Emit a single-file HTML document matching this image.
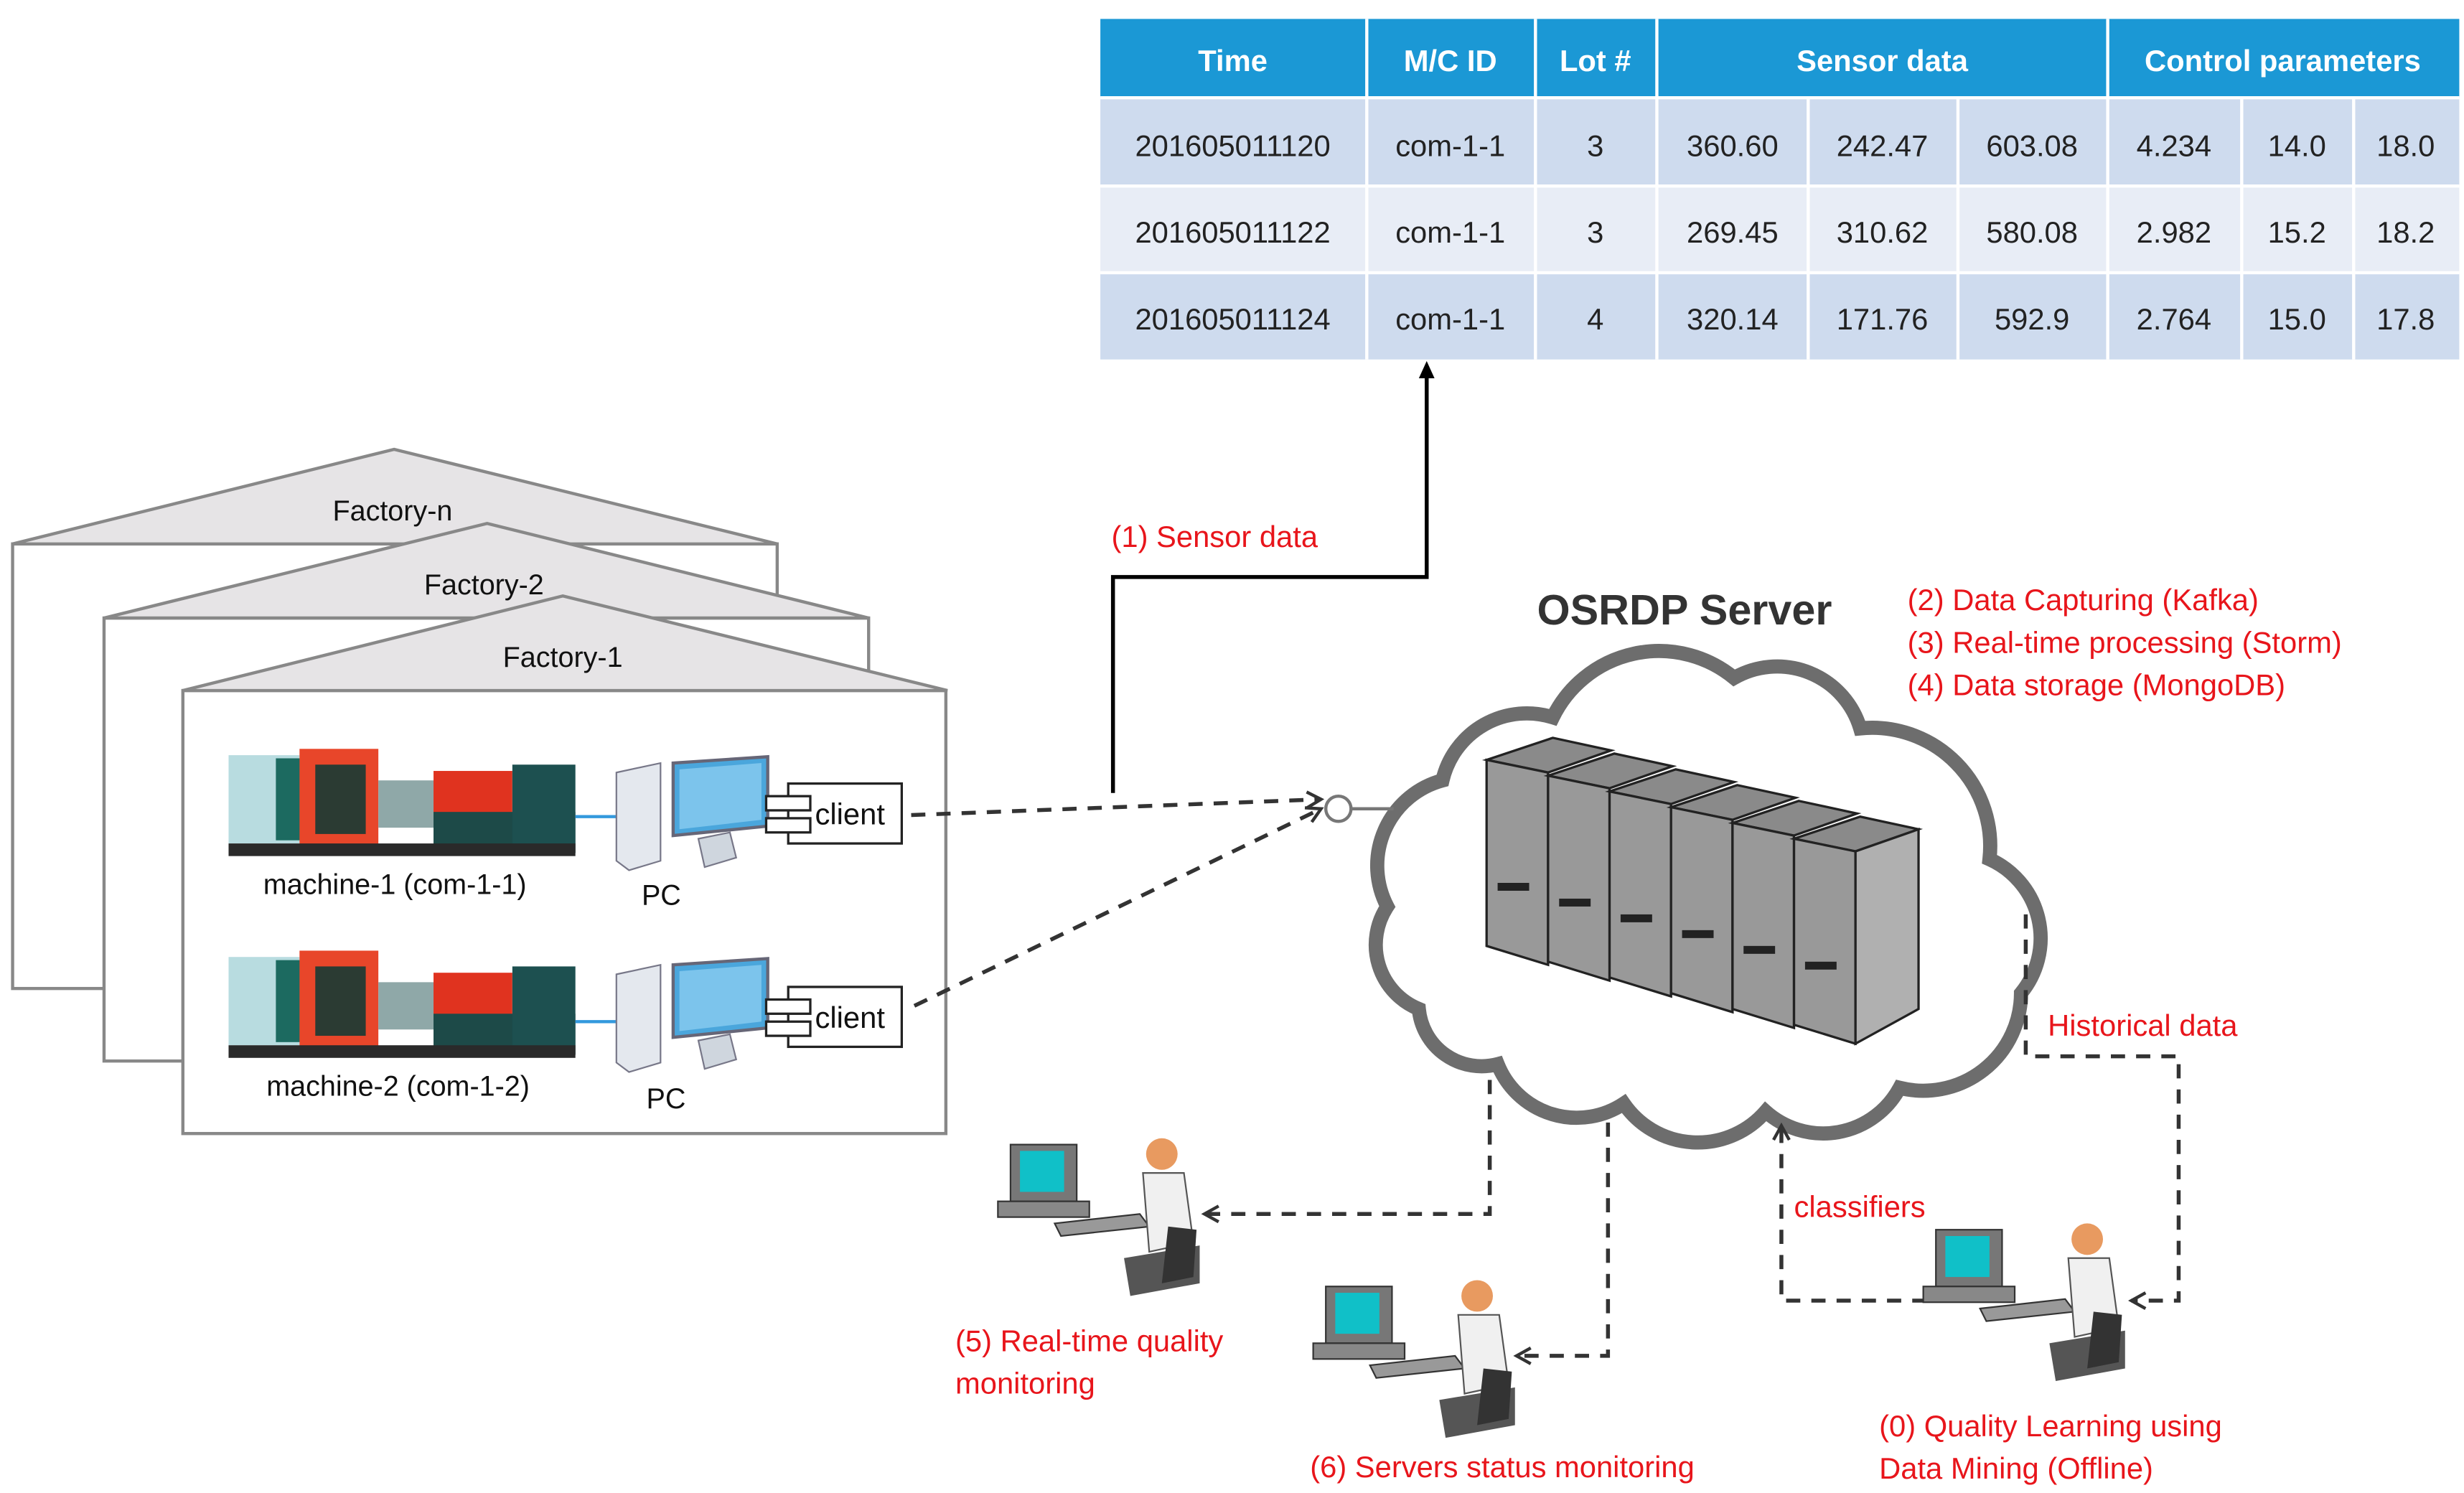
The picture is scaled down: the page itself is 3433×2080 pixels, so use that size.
<!DOCTYPE html>
<html><head><meta charset="utf-8"><style>
html,body{margin:0;padding:0;background:#fff;width:3433px;height:2080px;overflow:hidden}
svg{display:block}
text{font-family:"Liberation Sans",sans-serif}
</style></head><body>
<svg width="3433" height="2080" viewBox="0 0 1563 947" preserveAspectRatio="none" xmlns="http://www.w3.org/2000/svg">
<defs>
<marker id="ah" markerWidth="12" markerHeight="12" refX="10" refY="6" orient="auto" markerUnits="userSpaceOnUse"><path d="M1,1 L10,6 L1,11" fill="none" stroke="#333" stroke-width="2"/></marker>
<marker id="as" markerWidth="12" markerHeight="12" refX="6" refY="6" orient="auto" markerUnits="userSpaceOnUse"><path d="M0,1 L11,6 L0,11 Z" fill="#000"/></marker>
<g id="mach">
<rect x="0" y="0" width="220" height="70" fill="#fff"/>
<rect x="0" y="4" width="45" height="56" fill="#b8dce0"/>
<rect x="30" y="6" width="22" height="52" fill="#1c6a60"/>
<rect x="45" y="0" width="50" height="62" fill="#e8462a"/>
<rect x="55" y="10" width="32" height="44" fill="#2b3b33"/>
<rect x="95" y="20" width="40" height="30" fill="#8fa8a8"/>
<rect x="130" y="14" width="50" height="30" fill="#e0331f"/>
<rect x="130" y="40" width="90" height="26" fill="#1d4a48"/>
<rect x="180" y="10" width="40" height="56" fill="#1d5050"/>
<rect x="0" y="60" width="220" height="8" fill="#2a2a2a"/>
</g>
<g id="pc">
<path d="M0,10 L28,4 L28,66 L8,72 L0,66Z" fill="#e4e8ee" stroke="#778" stroke-width="1"/>
<path d="M36,4 L96,0 L96,44 L36,50Z" fill="#4aa6dc" stroke="#667" stroke-width="2"/>
<path d="M40,8 L92,4 L92,40 L40,46Z" fill="#7cc4ec"/>
<path d="M52,52 L72,48 L76,64 L56,70Z" fill="#cfd6de" stroke="#778"/>
</g>
<g id="client">
<rect x="14" y="0" width="72" height="38" fill="#fff" stroke="#222" stroke-width="1.5"/>
<rect x="0" y="8" width="28" height="9" fill="#fff" stroke="#222" stroke-width="1.5"/>
<rect x="0" y="22" width="28" height="9" fill="#fff" stroke="#222" stroke-width="1.5"/>
<text x="31" y="26" font-size="19" fill="#111">client</text>
</g>
<g id="person">
<rect x="8" y="8" width="42" height="36" fill="#777" stroke="#333"/>
<rect x="14" y="12" width="28" height="26" fill="#10c0c8"/>
<rect x="0" y="44" width="58" height="10" fill="#888" stroke="#333"/>
<path d="M36,58 L90,52 L96,60 L40,66Z" fill="#999" stroke="#333"/>
<circle cx="104" cy="14" r="10" fill="#e89a60"/>
<path d="M92,26 L118,26 L124,70 L96,76 Z" fill="#f0f0f0" stroke="#555"/>
<path d="M80,80 L128,72 L128,96 L84,104Z" fill="#555"/>
<path d="M108,60 L126,62 L124,92 L104,96Z" fill="#333"/>
</g>
</defs>

<!-- Table -->
<rect x="698" y="12" width="862" height="50" fill="#1b98d5"/>
<rect x="698" y="62" width="862" height="56" fill="#cedbee"/>
<rect x="698" y="118" width="862" height="55" fill="#e8edf6"/>
<rect x="698" y="173" width="862" height="55" fill="#cedbee"/>
<g stroke="#fff" stroke-width="2">
<line x1="867" y1="12" x2="867" y2="228"/><line x1="974" y1="12" x2="974" y2="228"/><line x1="1051" y1="12" x2="1051" y2="228"/>
<line x1="1147" y1="62" x2="1147" y2="228"/><line x1="1242" y1="62" x2="1242" y2="228"/><line x1="1337" y1="12" x2="1337" y2="228"/>
<line x1="1422" y1="62" x2="1422" y2="228"/><line x1="1493" y1="62" x2="1493" y2="228"/>
<line x1="698" y1="62" x2="1560" y2="62"/><line x1="698" y1="118" x2="1560" y2="118"/><line x1="698" y1="173" x2="1560" y2="173"/>
</g>
<g font-size="19" text-anchor="middle" fill="#fff" font-weight="bold">
<text x="782" y="45">Time</text><text x="920" y="45">M/C ID</text><text x="1012" y="45">Lot #</text><text x="1194" y="45">Sensor data</text><text x="1448" y="45">Control parameters</text>
</g>
<g font-size="19" text-anchor="middle" fill="#222">
<text x="782" y="99">201605011120</text><text x="920" y="99">com-1-1</text><text x="1012" y="99">3</text><text x="1099" y="99">360.60</text><text x="1194" y="99">242.47</text><text x="1289" y="99">603.08</text><text x="1379" y="99">4.234</text><text x="1457" y="99">14.0</text><text x="1526" y="99">18.0</text>
<text x="782" y="154">201605011122</text><text x="920" y="154">com-1-1</text><text x="1012" y="154">3</text><text x="1099" y="154">269.45</text><text x="1194" y="154">310.62</text><text x="1289" y="154">580.08</text><text x="1379" y="154">2.982</text><text x="1457" y="154">15.2</text><text x="1526" y="154">18.2</text>
<text x="782" y="209">201605011124</text><text x="920" y="209">com-1-1</text><text x="1012" y="209">4</text><text x="1099" y="209">320.14</text><text x="1194" y="209">171.76</text><text x="1289" y="209">592.9</text><text x="1379" y="209">2.764</text><text x="1457" y="209">15.0</text><text x="1526" y="209">17.8</text>
</g>

<!-- Factories -->
<g stroke="#888" stroke-width="2">
<rect x="8" y="345" width="485" height="282" fill="#fff"/>
<path d="M8,345 L250,285 L493,345Z" fill="#e6e4e6"/>
<rect x="66" y="392" width="485" height="281" fill="#fff"/>
<path d="M66,392 L309,332 L551,392Z" fill="#e6e4e6"/>
<rect x="116" y="438" width="484" height="281" fill="#fff"/>
<path d="M116,438 L357,378 L601,438Z" fill="#e6e4e6"/>
</g>
<g font-size="18" fill="#111" text-anchor="middle">
<text x="249" y="330">Factory-n</text><text x="307" y="377">Factory-2</text><text x="357" y="423">Factory-1</text>
</g>
<use href="#mach" x="145" y="475"/>
<use href="#mach" x="145" y="603"/>
<line x1="365" y1="518" x2="392" y2="518" stroke="#39d" stroke-width="2"/>
<line x1="365" y1="648" x2="392" y2="648" stroke="#39d" stroke-width="2"/>
<use href="#pc" x="391" y="480"/>
<use href="#pc" x="391" y="608"/>
<use href="#client" x="486" y="497"/>
<use href="#client" x="486" y="626"/>
<g font-size="18" fill="#111">
<text x="167" y="567">machine-1 (com-1-1)</text>
<text x="169" y="695">machine-2 (com-1-2)</text>
<text x="407" y="574">PC</text><text x="410" y="703">PC</text>
</g>

<!-- Cloud -->
<path d="M915,495 A55,55 0 0 1 985,455 A75,75 0 0 1 1100,430 A55,55 0 0 1 1180,462 A75,75 0 0 1 1262,545 A55,55 0 0 1 1282,630 A62,62 0 0 1 1205,690 A55,55 0 0 1 1120,705 A57,57 0 0 1 1030,700 A54,54 0 0 1 950,675 A40,40 0 0 1 900,640 A44,44 0 0 1 880,575 A56,56 0 0 1 915,495Z" fill="#fff" stroke="#6d6d6d" stroke-width="9"/>
<!-- servers -->
<g stroke="#222" stroke-width="1.5">
<g><path d="M943,482 L985,468 L1022,476 L982,490Z" fill="#8a8a8a"/><path d="M943,482 L982,490 L982,612 L943,600Z" fill="#999"/></g>
<g transform="translate(39,10)"><path d="M943,482 L985,468 L1022,476 L982,490Z" fill="#8a8a8a"/><path d="M943,482 L982,490 L982,612 L943,600Z" fill="#999"/></g>
<g transform="translate(78,20)"><path d="M943,482 L985,468 L1022,476 L982,490Z" fill="#8a8a8a"/><path d="M943,482 L982,490 L982,612 L943,600Z" fill="#999"/></g>
<g transform="translate(117,30)"><path d="M943,482 L985,468 L1022,476 L982,490Z" fill="#8a8a8a"/><path d="M943,482 L982,490 L982,612 L943,600Z" fill="#999"/></g>
<g transform="translate(156,40)"><path d="M943,482 L985,468 L1022,476 L982,490Z" fill="#8a8a8a"/><path d="M943,482 L982,490 L982,612 L943,600Z" fill="#999"/></g>
<g transform="translate(195,50)"><path d="M943,482 L985,468 L1022,476 L982,490Z" fill="#8a8a8a"/><path d="M943,482 L982,490 L982,612 L943,600Z" fill="#999"/><path d="M982,490 L1022,476 L1022,590 L982,612Z" fill="#b0b0b0"/></g>
</g>
<g fill="#222">
<rect x="950" y="560" width="20" height="5"/><rect x="989" y="570" width="20" height="5"/><rect x="1028" y="580" width="20" height="5"/><rect x="1067" y="590" width="20" height="5"/><rect x="1106" y="600" width="20" height="5"/><rect x="1145" y="610" width="20" height="5"/>
</g>
<circle cx="849" cy="513" r="8" fill="#fff" stroke="#777" stroke-width="2"/>
<line x1="857" y1="513" x2="884" y2="513" stroke="#777" stroke-width="2"/>
<text x="975" y="396" font-size="27" font-weight="bold" fill="#333">OSRDP Server</text>

<!-- connectors -->
<g fill="none" stroke="#333" stroke-width="2.5" stroke-dasharray="9,7">
<path d="M578,517 L838,507" marker-end="url(#ah)"/>
<path d="M580,638 L838,513" marker-end="url(#ah)"/>
<path d="M945,685 L945,770 L764,770" marker-end="url(#ah)"/>
<path d="M1020,712 L1020,860 L962,860" marker-end="url(#ah)"/>
<path d="M1222,825 L1130,825 L1130,714" marker-end="url(#ah)"/>
<path d="M1285,580 L1285,670 L1382,670 L1382,825 L1352,825" marker-end="url(#ah)"/>
</g>
<path d="M706,503 L706,366 L905,366 L905,234" fill="none" stroke="#000" stroke-width="2.5" marker-end="url(#as)"/>

<use href="#person" x="633" y="718"/>
<use href="#person" x="833" y="808"/>
<use href="#person" x="1220" y="772"/>

<g font-size="19" fill="#e8151b">
<text x="705" y="347">(1) Sensor data</text>
<text x="1210" y="387">(2) Data Capturing (Kafka)</text>
<text x="1210" y="414">(3) Real-time processing (Storm)</text>
<text x="1210" y="441">(4) Data storage (MongoDB)</text>
<text x="1299" y="657">Historical data</text>
<text x="1138" y="772">classifiers</text>
<text x="606" y="857">(5) Real-time quality</text>
<text x="606" y="884">monitoring</text>
<text x="831" y="937">(6) Servers status monitoring</text>
<text x="1192" y="911">(0) Quality Learning using</text>
<text x="1192" y="938">Data Mining (Offline)</text>
</g>
</svg>
</body></html>
